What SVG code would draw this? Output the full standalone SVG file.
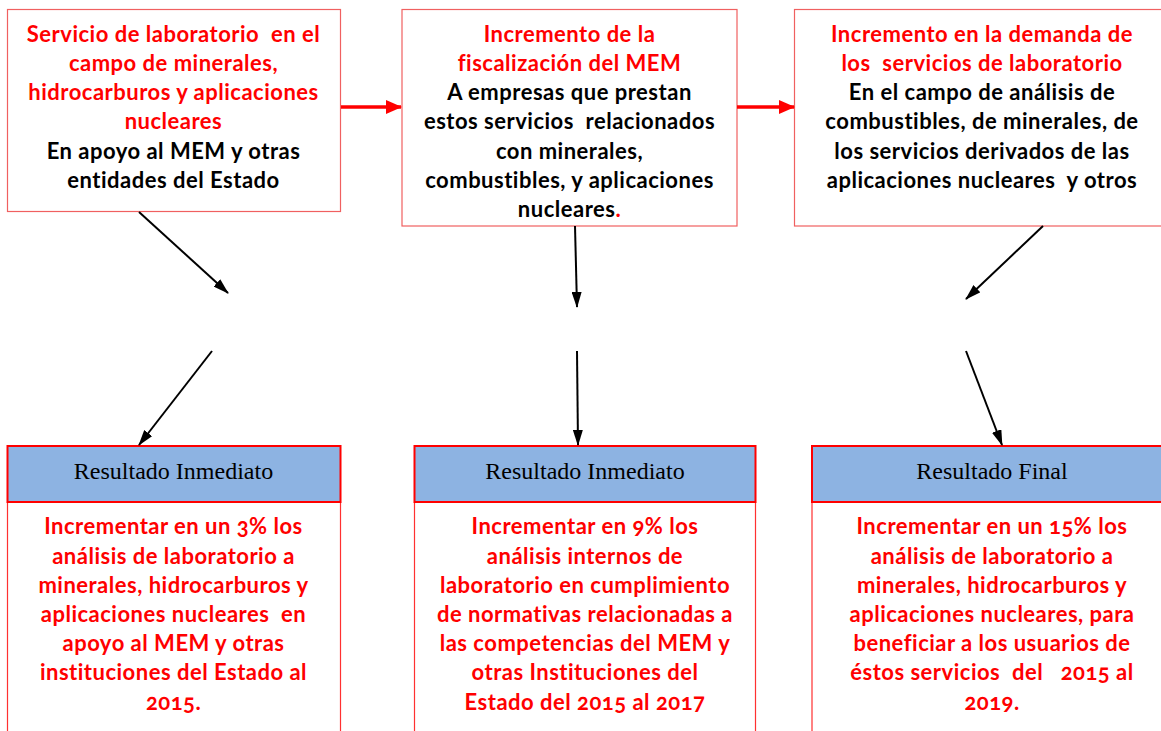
<svg xmlns="http://www.w3.org/2000/svg" width="1161" height="731" viewBox="0 0 1161 731">
<style>
.t{font-family:Lato,"Open Sans","Liberation Sans",sans-serif;font-weight:700;font-size:22px;letter-spacing:0.5px;text-anchor:middle;white-space:pre;font-variant-numeric:oldstyle-nums}
.r{fill:#FF0000}
.k{fill:#000000}
.h{font-family:"Liberation Serif",serif;font-size:24px;text-anchor:middle;fill:#000}
.box{fill:#fff;stroke:#F06060;stroke-width:1.2}
.hdr{fill:#8DB3E2;stroke:#FF0000;stroke-width:2}
.body{fill:#fff;stroke:#FF3030;stroke-width:1.2}
.ar{stroke:#000;stroke-width:2;fill:none;marker-end:url(#ah)}
.ra{stroke:#FF0000;stroke-width:3.5;fill:none;marker-end:url(#rh)}
</style>
<defs>
<marker id="ah" viewBox="0 0 16 10" refX="15" refY="5" markerWidth="16" markerHeight="10" markerUnits="userSpaceOnUse" orient="auto"><path d="M0,0 L16,5 L0,10 Z" fill="#000"/></marker>
<marker id="rh" viewBox="0 0 16 14" refX="15" refY="7" markerWidth="16" markerHeight="14" markerUnits="userSpaceOnUse" orient="auto"><path d="M0,0 L16,7 L0,14 Z" fill="#FF0000"/></marker>
<clipPath id="cm"><rect x="402" y="9" width="335" height="208"/></clipPath>
</defs>
<rect width="1161" height="731" fill="#fff"/>

<g id="n1">
<rect class="box" x="7.5" y="9.5" width="333" height="202"/>
<text class="t r" x="173.5" y="41.7">Servicio de laboratorio  en el</text>
<text class="t r" x="173.5" y="70.9">campo de minerales,</text>
<text class="t r" x="173.5" y="100.1">hidrocarburos y aplicaciones</text>
<text class="t r" x="173.5" y="129.3">nucleares</text>
<text class="t k" x="173.5" y="158.5">En apoyo al MEM y otras</text>
<text class="t k" x="173.5" y="187.7">entidades del Estado</text>
</g>

<g id="n2">
<rect class="box" x="402" y="9.5" width="335" height="216.5"/>
<g clip-path="url(#cm)">
<text class="t r" x="569.5" y="41.7">Incremento de la</text>
<text class="t r" x="569.5" y="70.9">fiscalización del MEM</text>
<text class="t k" x="569.5" y="100.1">A empresas que prestan</text>
<text class="t k" x="569.5" y="129.3">estos servicios  relacionados</text>
<text class="t k" x="569.5" y="158.5">con minerales,</text>
<text class="t k" x="569.5" y="187.7">combustibles, y aplicaciones</text>
<text class="t k" x="569.5" y="216.9">nucleares<tspan class="r">.</tspan></text>
</g>
</g>

<g id="n3">
<rect class="box" x="794.5" y="9.5" width="375" height="216.5"/>
<text class="t r" x="982" y="41.7">Incremento en la demanda de</text>
<text class="t r" x="982" y="70.9">los  servicios de laboratorio</text>
<text class="t k" x="982" y="100.1">En el campo de análisis de</text>
<text class="t k" x="982" y="129.3">combustibles, de minerales, de</text>
<text class="t k" x="982" y="158.5">los servicios derivados de las</text>
<text class="t k" x="982" y="187.7">aplicaciones nucleares  y otros</text>
</g>

<g id="r1">
<rect class="body" x="7.5" y="502" width="333" height="240"/>
<rect class="hdr" x="7.5" y="446" width="333" height="56"/>
<text class="h" x="173.5" y="479">Resultado Inmediato</text>
<text class="t r" x="173.5" y="534.3">Incrementar en un 3% los</text>
<text class="t r" x="173.5" y="563.5">análisis de laboratorio a</text>
<text class="t r" x="173.5" y="592.7">minerales, hidrocarburos y</text>
<text class="t r" x="173.5" y="621.9">aplicaciones nucleares  en</text>
<text class="t r" x="173.5" y="651.1">apoyo al MEM y otras</text>
<text class="t r" x="173.5" y="680.3">instituciones del Estado al</text>
<text class="t r" x="173.5" y="709.5">2015.</text>
</g>

<g id="r2">
<rect class="body" x="414.5" y="502" width="341" height="240"/>
<rect class="hdr" x="414.5" y="446" width="341" height="56"/>
<text class="h" x="585" y="479">Resultado Inmediato</text>
<text class="t r" x="585" y="534.3">Incrementar en 9% los</text>
<text class="t r" x="585" y="563.5">análisis internos de</text>
<text class="t r" x="585" y="592.7">laboratorio en cumplimiento</text>
<text class="t r" x="585" y="621.9">de normativas relacionadas a</text>
<text class="t r" x="585" y="651.1">las competencias del MEM y</text>
<text class="t r" x="585" y="680.3">otras Instituciones del</text>
<text class="t r" x="585" y="709.5">Estado del 2015 al 2017</text>
</g>

<g id="r3">
<rect class="body" x="812" y="502" width="360" height="240"/>
<rect class="hdr" x="812" y="446" width="360" height="56"/>
<text class="h" x="992" y="479">Resultado Final</text>
<text class="t r" x="992" y="534.3">Incrementar en un 15% los</text>
<text class="t r" x="992" y="563.5">análisis de laboratorio a</text>
<text class="t r" x="992" y="592.7">minerales, hidrocarburos y</text>
<text class="t r" x="992" y="621.9">aplicaciones nucleares, para</text>
<text class="t r" x="992" y="651.1">beneficiar a los usuarios de</text>
<text class="t r" x="992" y="680.3">éstos servicios  del   2015 al</text>
<text class="t r" x="992" y="709.5">2019.</text>
</g>

<g id="connectors">
<line class="ra" x1="341" y1="107" x2="401" y2="107"/>
<line class="ra" x1="737" y1="107" x2="794" y2="107"/>
<line class="ar" x1="139" y1="212" x2="228" y2="293"/>
<line class="ar" x1="212" y1="351" x2="139" y2="445"/>
<line class="ar" x1="575" y1="226" x2="577" y2="307"/>
<line class="ar" x1="577" y1="351" x2="578" y2="445"/>
<line class="ar" x1="1043" y1="226" x2="966" y2="299"/>
<line class="ar" x1="966" y1="351" x2="1002" y2="445"/>
</g>
</svg>
